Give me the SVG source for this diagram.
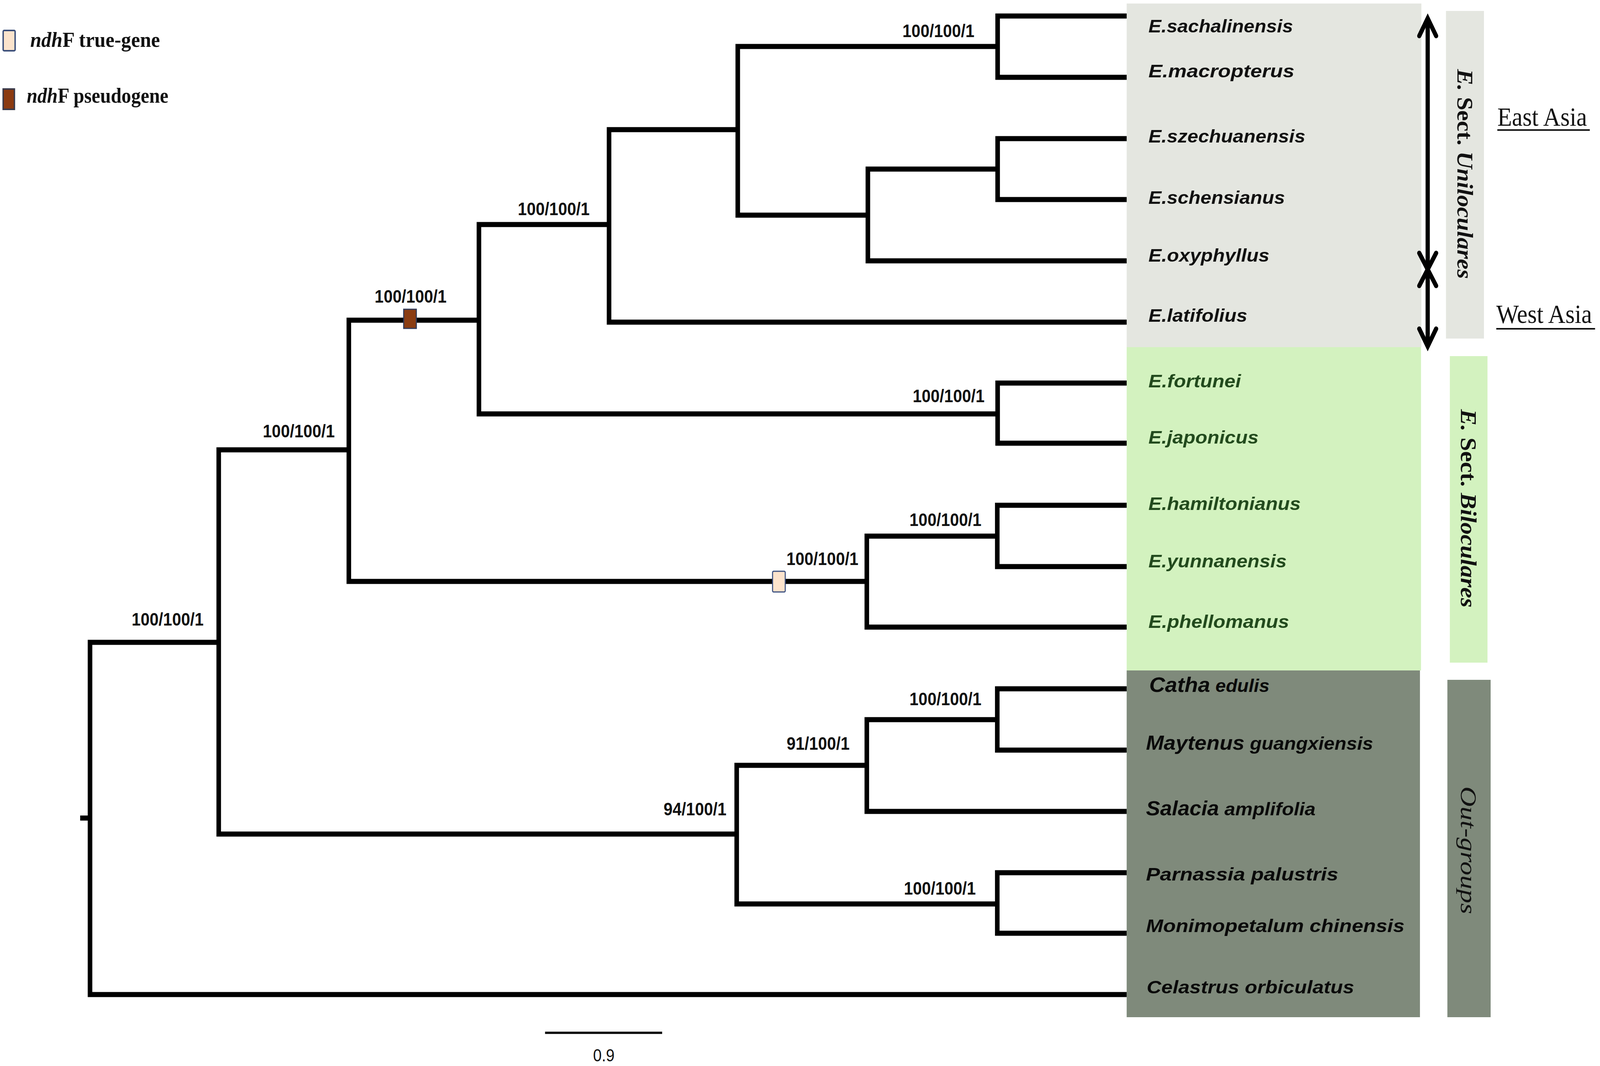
<svg xmlns="http://www.w3.org/2000/svg" width="4550" height="2730" viewBox="0 0 4550 2730" preserveAspectRatio="none">
<style>
svg{width:100vw;height:100vh}
.br{fill:none;stroke:#000;stroke-width:13;stroke-linejoin:miter;stroke-linecap:butt}
.sup{font-family:"Liberation Sans",Arial,sans-serif;font-weight:bold;font-size:46px;fill:#111;text-anchor:end}
.tip{font-family:"Liberation Sans",Arial,sans-serif;font-weight:bold;font-style:italic;font-size:47px;fill:#111}
.grn{fill:#224a1d}
.og{fill:#0a0a0a}
.grp{font-family:"Liberation Serif","Times New Roman",serif;font-size:63px;fill:#111}
.geo{font-family:"Liberation Serif","Times New Roman",serif;font-size:68px;fill:#111}
.leg{font-family:"Liberation Serif","Times New Roman",serif;font-weight:bold;font-size:54px;fill:#111}
.arr{fill:none;stroke:#000;stroke-width:12;stroke-linecap:round;stroke-linejoin:miter}
</style>
<rect width="4550" height="2730" fill="#fff"/>

<g id="boxes">
<rect id="box-uni" x="3204" y="9" width="838" height="880" fill="#e4e6e0"/>
<rect id="box-bi" x="3204" y="889" width="837" height="828" fill="#d3f2bf"/>
<rect id="box-out" x="3204" y="1717" width="834" height="888" fill="#7f8a7b"/>
<rect id="bar-uni" x="4112" y="28" width="108" height="839" fill="#e4e6e0"/>
<rect id="bar-bi" x="4123" y="912" width="107" height="785" fill="#d3f2bf"/>
<rect id="bar-out" x="4116" y="1741" width="123" height="864" fill="#7f8a7b"/>
</g>

<g id="connectors">
<path class="br" d="M3204 41 H2837 V198 H3204"/>
<path class="br" d="M3204 355 H2837 V511 H3204"/>
<path class="br" d="M2837 433 H2468 V668 H3204"/>
<path class="br" d="M2837 119 H2098 V551 H2468"/>
<path class="br" d="M2098 332 H1732 V825 H3204"/>
<path class="br" d="M3204 981 H2837 V1135 H3204"/>
<path class="br" d="M1732 575 H1362 V1060 H2837"/>
<path class="br" d="M3204 1294 H2836 V1451 H3204"/>
<path class="br" d="M2836 1373 H2465 V1606 H3204"/>
<path class="br" d="M1362 820 H992 V1489 H2465"/>
<path class="br" d="M3204 1764 H2836 V1921 H3204"/>
<path class="br" d="M2836 1843 H2465 V2078 H3204"/>
<path class="br" d="M3204 2235 H2836 V2390 H3204"/>
<path class="br" d="M2465 1960 H2095 V2315 H2836"/>
<path class="br" d="M992 1152 H622 V2136 H2095"/>
<path class="br" d="M622 1645 H256 V2547 H3204"/>
<path class="br" d="M228 2095 H256"/>
</g>

<g id="markers">
<rect id="pseudo-mark" x="1148" y="792" width="36" height="49" fill="#8b3d12" stroke="#2f3a5a" stroke-width="3"/>
<rect id="true-mark" x="2197" y="1463" width="36" height="53" rx="3" fill="#fde3cc" stroke="#3b5080" stroke-width="3"/>
</g>

<g id="support">
<text class="sup" x="579" y="1602">100/100/1</text>
<text class="sup" x="952" y="1120">100/100/1</text>
<text class="sup" x="1270" y="775">100/100/1</text>
<text class="sup" x="1677" y="551">100/100/1</text>
<text class="sup" x="2771" y="95">100/100/1</text>
<text class="sup" x="2800" y="1030">100/100/1</text>
<text class="sup" x="2441" y="1447">100/100/1</text>
<text class="sup" x="2791" y="1347">100/100/1</text>
<text class="sup" x="2791" y="1806">100/100/1</text>
<text class="sup" x="2416" y="1920">91/100/1</text>
<text class="sup" x="2066" y="2088">94/100/1</text>
<text class="sup" x="2775" y="2291">100/100/1</text>
</g>

<g id="taxa">
<text class="tip" x="3266" y="83" textLength="411" lengthAdjust="spacingAndGlyphs">E.sachalinensis</text>
<text class="tip" x="3266" y="198" textLength="415" lengthAdjust="spacingAndGlyphs">E.macropterus</text>
<text class="tip" x="3266" y="365" textLength="446" lengthAdjust="spacingAndGlyphs">E.szechuanensis</text>
<text class="tip" x="3266" y="522" textLength="388" lengthAdjust="spacingAndGlyphs">E.schensianus</text>
<text class="tip" x="3266" y="670" textLength="344" lengthAdjust="spacingAndGlyphs">E.oxyphyllus</text>
<text class="tip" x="3266" y="824" textLength="281" lengthAdjust="spacingAndGlyphs">E.latifolius</text>
<text class="tip grn" x="3266" y="992" textLength="263" lengthAdjust="spacingAndGlyphs">E.fortunei</text>
<text class="tip grn" x="3266" y="1136" textLength="313" lengthAdjust="spacingAndGlyphs">E.japonicus</text>
<text class="tip grn" x="3266" y="1306" textLength="433" lengthAdjust="spacingAndGlyphs">E.hamiltonianus</text>
<text class="tip grn" x="3266" y="1453" textLength="393" lengthAdjust="spacingAndGlyphs">E.yunnanensis</text>
<text class="tip grn" x="3266" y="1608" textLength="400" lengthAdjust="spacingAndGlyphs">E.phellomanus</text>
<text class="tip og" x="3268" y="1772" textLength="342" lengthAdjust="spacingAndGlyphs"><tspan font-size="54">Catha</tspan> <tspan font-size="46">edulis</tspan></text>
<text class="tip og" x="3259" y="1920" textLength="646" lengthAdjust="spacingAndGlyphs"><tspan font-size="52">Maytenus</tspan> <tspan font-size="47">guangxiensis</tspan></text>
<text class="tip og" x="3259" y="2088" textLength="482" lengthAdjust="spacingAndGlyphs"><tspan font-size="51">Salacia</tspan> <tspan font-size="47">amplifolia</tspan></text>
<text class="tip og" x="3259" y="2255" textLength="547" lengthAdjust="spacingAndGlyphs">Parnassia palustris</text>
<text class="tip og" x="3259" y="2387" textLength="735" lengthAdjust="spacingAndGlyphs">Monimopetalum chinensis</text>
<text class="tip og" x="3261" y="2544" textLength="590" lengthAdjust="spacingAndGlyphs">Celastrus orbiculatus</text>
</g>

<g id="group-labels">
<text class="grp" font-weight="bold" transform="translate(4145,177) rotate(90)" textLength="537" lengthAdjust="spacingAndGlyphs"><tspan font-style="italic">E.</tspan> Sect. <tspan font-style="italic">Uniloculares</tspan></text>
<text class="grp" font-weight="bold" transform="translate(4154,1048) rotate(90)" textLength="508" lengthAdjust="spacingAndGlyphs"><tspan font-style="italic">E.</tspan> Sect. <tspan font-style="italic">Biloculares</tspan></text>
<text class="grp" font-style="italic" font-size="68" transform="translate(4154,2014) rotate(90)" textLength="327" lengthAdjust="spacingAndGlyphs">Out-groups</text>
</g>

<g id="geography">
<line x1="4060" y1="54" x2="4060" y2="880" stroke="#000" stroke-width="12"/>
<polyline class="arr" points="4036,92 4060,47 4084,92"/>
<polyline class="arr" points="4036,648 4060,690 4084,648"/>
<polyline class="arr" points="4036,732 4060,690 4084,732"/>
<polyline class="arr" points="4036,842 4060,887 4084,842"/>
<text class="geo" x="4258" y="322">East Asia</text>
<line x1="4258" y1="333" x2="4521" y2="333" stroke="#111" stroke-width="4"/>
<text class="geo" x="4255" y="827">West Asia</text>
<line x1="4255" y1="842" x2="4536" y2="842" stroke="#111" stroke-width="4"/>
</g>

<g id="legend">
<rect x="9" y="78" width="34" height="52" rx="3" fill="#fbe3cc" stroke="#3b4f7a" stroke-width="4"/>
<text class="leg" x="86" y="120" textLength="369" lengthAdjust="spacingAndGlyphs"><tspan font-style="italic">ndh</tspan>F true-gene</text>
<rect x="9" y="228" width="32" height="52" fill="#8b3a10" stroke="#3a3a4a" stroke-width="4"/>
<text class="leg" x="76" y="263" textLength="403" lengthAdjust="spacingAndGlyphs"><tspan font-style="italic">ndh</tspan>F pseudogene</text>
</g>

<g id="scale">
<line x1="1550" y1="2645" x2="1883" y2="2645" stroke="#111" stroke-width="6"/>
<text x="1717" y="2718" font-family="Liberation Sans,Arial,sans-serif" font-size="44" fill="#111" text-anchor="middle">0.9</text>
</g>
</svg>
